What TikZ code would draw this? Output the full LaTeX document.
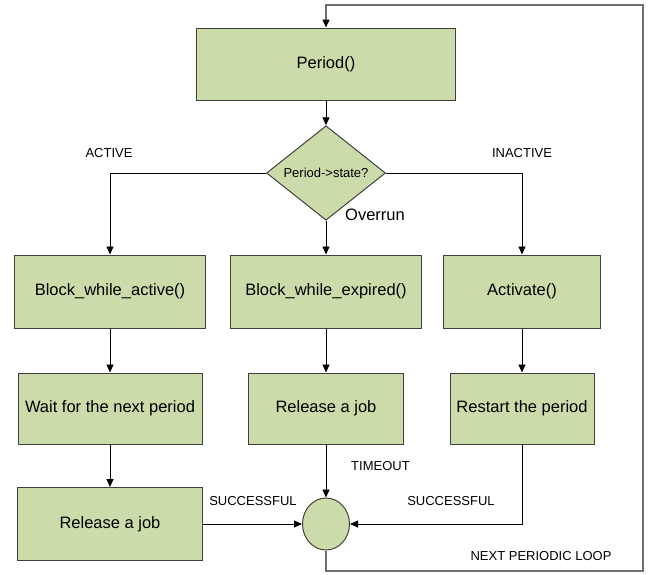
\documentclass[tikz,border=0pt]{standalone}
\usepackage{fontspec}
\setmainfont{Liberation Sans}
\usepackage{xcolor}
\usepackage{tikz}
\usetikzlibrary{shapes.geometric, arrows.meta, positioning, calc}
\definecolor{boxgreen}{RGB}{204, 219, 170}
\definecolor{boxline}{RGB}{64, 64, 64}
\definecolor{loopgray}{RGB}{110, 110, 110}

\begin{document}
\begin{tikzpicture}[x=1pt, y=-1pt,
    box/.style={draw=boxline, line width=1pt, fill=boxgreen, minimum height=72pt, inner sep=0pt, align=center, font=\fontsize{16.5}{19}\selectfont},
    lbl/.style={inner sep=0pt, font=\fontsize{13}{15}\selectfont},
    flow/.style={line width=0.9pt, -{Triangle[length=8pt, width=7pt, black]}}
]
    \useasboundingbox (0,0) rectangle (656,574);

    % top of the loop
    \node[box, minimum width=259pt] (period) at (326,64) {Period()};
    \node[box, shape=diamond, minimum width=119pt, minimum height=71pt, font=\fontsize{13}{15}\selectfont] (state) at (326,173) {Period->state?};

    % three branches
    \node[box, minimum width=191pt, minimum height=73pt] (blkact) at (110,291.5) {Block\_while\_active()};
    \node[box, minimum width=191pt, minimum height=73pt] (blkexp) at (326,291.5) {Block\_while\_expired()};
    \node[box, minimum width=157pt, minimum height=73pt] (activ) at (522,291.5) {Activate()};

    \node[box, minimum width=184pt, minimum height=71pt] (wait) at (110,408.5) {Wait for the next period};
    \node[box, minimum width=155pt, minimum height=71pt] (relmid) at (326,408.5) {Release a job};
    \node[box, minimum width=144pt, minimum height=71pt] (restart) at (522,408.5) {Restart the period};

    \node[box, minimum width=185pt, minimum height=73pt] (relleft) at (110,524) {Release a job};
    \node[box, shape=ellipse, minimum width=47pt, minimum height=52pt] (join) at (326,524) {};

    % labels
    \node[lbl] (lactive) at (109,153) {ACTIVE};
    \node[lbl] (linactive) at (522,153) {INACTIVE};
    \node[lbl, anchor=west, font=\fontsize{16.5}{19}\selectfont] (loverrun) at (345,215) {Overrun};
    \node[lbl, anchor=west] (ltimeout) at (351,466) {TIMEOUT};
    \node[lbl] (lsuccl) at (253,501) {SUCCESSFUL};
    \node[lbl] (lsuccr) at (451,501) {SUCCESSFUL};
    \node[lbl] (lnext) at (541,556) {NEXT PERIODIC LOOP};

    \coordinate (loopbot) at (643,571);
    \coordinate (looptop) at (643,5);

    % connectors
    \draw[flow] (period) -- (state);
    \draw[flow] (state.west) -| (blkact.north);
    \draw[flow] (state.south) -- (blkexp.north);
    \draw[flow] (state.east) -| (activ.north);
    \draw[flow] (blkact) -- (wait);
    \draw[flow] (blkexp) -- (relmid);
    \draw[flow] (activ) -- (restart);
    \draw[flow] (wait) -- (relleft);
    \draw[flow] (relleft.east) -- (join.west);
    \draw[flow] (relmid.south) -- (join.north);
    \draw[flow] (restart.south) |- (join.east);
    \draw[flow, draw=loopgray, line width=1.4pt] (join.south) |- (loopbot) -- (looptop) -| (period.north);
\end{tikzpicture}
\end{document}
